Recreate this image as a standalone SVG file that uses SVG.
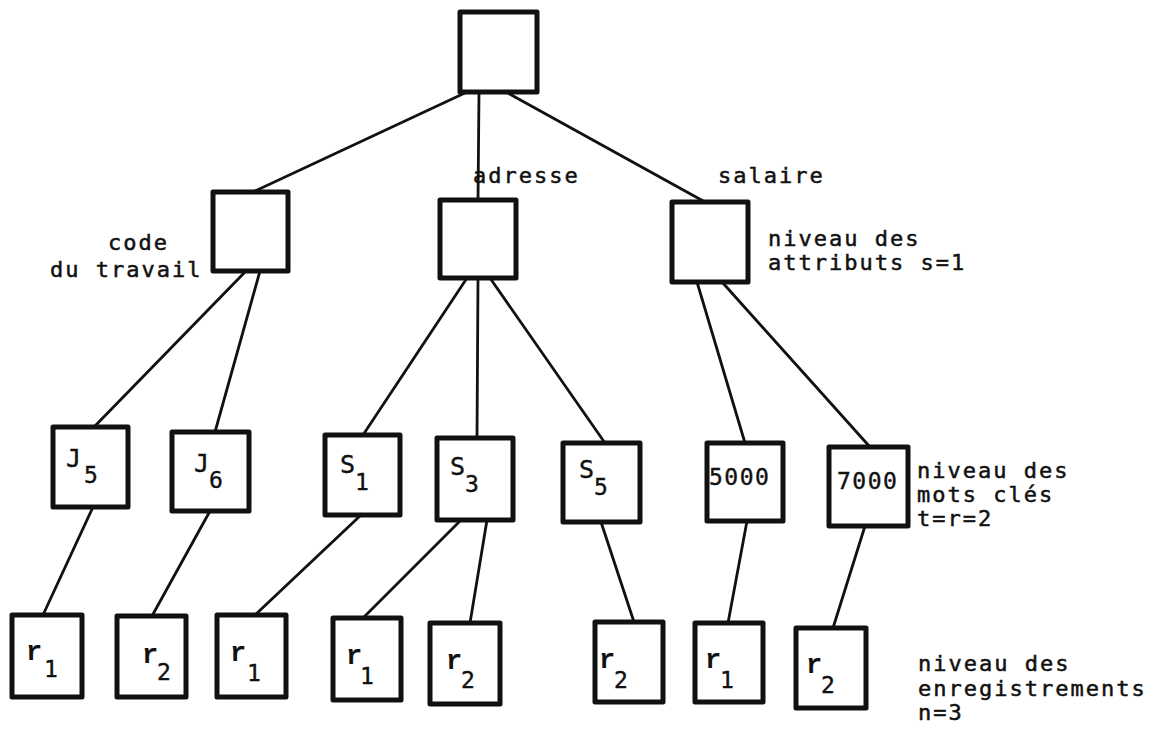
<svg xmlns="http://www.w3.org/2000/svg" width="1160" height="736" viewBox="0 0 1160 736">
  <style>
    .box { fill: #fff; stroke: #111; stroke-width: 5; stroke-linejoin: round; }
    .edge { stroke: #111; stroke-width: 2.8; stroke-linecap: round; fill: none; }
    .lbl { font-family: "DejaVu Sans Mono", "Liberation Mono", monospace; font-size: 22px; letter-spacing: 2px; fill: #111; stroke: #111; stroke-width: 0.5px; }
    .key { font-family: "DejaVu Sans Mono", "Liberation Mono", monospace; font-size: 25px; fill: #111; stroke: #111; stroke-width: 0.4px; }
    .sub { font-family: "DejaVu Sans Mono", "Liberation Mono", monospace; font-size: 23px; fill: #111; stroke: #111; stroke-width: 0.4px; }
    .num { font-family: "DejaVu Sans Mono", "Liberation Mono", monospace; font-size: 23px; letter-spacing: 1.5px; fill: #111; stroke: #111; stroke-width: 0.4px; }
    .rec { font-family: "Liberation Mono", "DejaVu Sans Mono", monospace; font-size: 27px; font-weight: bold; fill: #111; }
  </style>
  <rect width="1160" height="736" fill="#fff"/>

  <!-- connectors -->
  <g id="connectors">
    <line class="edge" x1="467" y1="92" x2="253" y2="192"/>
    <line class="edge" x1="479" y1="92" x2="478" y2="200"/>
    <line class="edge" x1="506" y1="92" x2="705" y2="202"/>

    <line class="edge" x1="246" y1="271" x2="94" y2="427"/>
    <line class="edge" x1="260" y1="271" x2="215" y2="432"/>
    <line class="edge" x1="467" y1="278" x2="363" y2="435"/>
    <line class="edge" x1="478" y1="278" x2="477" y2="438"/>
    <line class="edge" x1="490" y1="278" x2="605" y2="443"/>
    <line class="edge" x1="697" y1="282" x2="745" y2="443"/>
    <line class="edge" x1="722" y1="282" x2="870" y2="447"/>

    <line class="edge" x1="93" y1="507" x2="43" y2="615"/>
    <line class="edge" x1="210" y1="511" x2="152" y2="616"/>
    <line class="edge" x1="361" y1="515" x2="255" y2="615"/>
    <line class="edge" x1="461" y1="520" x2="363" y2="618"/>
    <line class="edge" x1="487" y1="520" x2="470" y2="623"/>
    <line class="edge" x1="601" y1="522" x2="634" y2="622"/>
    <line class="edge" x1="747" y1="521" x2="728" y2="623"/>
    <line class="edge" x1="865" y1="526" x2="833" y2="628"/>
  </g>

  <!-- root -->
  <g id="root">
    <rect class="box" x="460" y="12" width="77" height="80"/>
  </g>

  <!-- attribute level -->
  <g id="attr-code">
    <rect class="box" x="213" y="192" width="75" height="79"/>
    <text class="lbl" x="108" y="250">code</text>
    <text class="lbl" x="50" y="277">du travail</text>
  </g>
  <g id="attr-adresse">
    <rect class="box" x="440" y="200" width="76" height="78"/>
    <text class="lbl" x="473" y="183">adresse</text>
  </g>
  <g id="attr-salaire">
    <rect class="box" x="672" y="202" width="76" height="80"/>
    <text class="lbl" x="718" y="183">salaire</text>
    <text class="lbl" x="768" y="246">niveau des</text>
    <text class="lbl" x="768" y="270">attributs s=1</text>
  </g>

  <!-- keyword level -->
  <g id="kw-j5">
    <rect class="box" x="53" y="427" width="75" height="80"/>
    <text class="key" x="66" y="467">J</text><text class="sub" x="84" y="483">5</text>
  </g>
  <g id="kw-j6">
    <rect class="box" x="172" y="432" width="77" height="79"/>
    <text class="key" x="194" y="472">J</text><text class="sub" x="209" y="488">6</text>
  </g>
  <g id="kw-s1">
    <rect class="box" x="325" y="435" width="75" height="80"/>
    <text class="key" x="340" y="473">S</text><text class="sub" x="355" y="490">1</text>
  </g>
  <g id="kw-s3">
    <rect class="box" x="437" y="438" width="76" height="82"/>
    <text class="key" x="450" y="475">S</text><text class="sub" x="465" y="492">3</text>
  </g>
  <g id="kw-s5">
    <rect class="box" x="563" y="443" width="77" height="79"/>
    <text class="key" x="579" y="478">S</text><text class="sub" x="594" y="495">5</text>
  </g>
  <g id="kw-5000">
    <rect class="box" x="707" y="443" width="76" height="78"/>
    <text class="num" x="709" y="485">5000</text>
  </g>
  <g id="kw-7000">
    <rect class="box" x="829" y="447" width="79" height="79"/>
    <text class="num" x="837" y="489">7000</text>
    <text class="lbl" x="917" y="478">niveau des</text>
    <text class="lbl" x="917" y="502">mots clés</text>
    <text class="lbl" x="917" y="526">t=r=2</text>
  </g>

  <!-- record level -->
  <g id="rec-1a">
    <rect class="box" x="12" y="615" width="70" height="82"/>
    <text class="rec" x="26" y="660">r</text><text class="sub" x="44" y="677">1</text>
  </g>
  <g id="rec-2a">
    <rect class="box" x="117" y="616" width="69" height="81"/>
    <text class="rec" x="142" y="663">r</text><text class="sub" x="157" y="680">2</text>
  </g>
  <g id="rec-1b">
    <rect class="box" x="217" y="615" width="69" height="82"/>
    <text class="rec" x="230" y="661">r</text><text class="sub" x="247" y="681">1</text>
  </g>
  <g id="rec-1c">
    <rect class="box" x="333" y="618" width="68" height="82"/>
    <text class="rec" x="346" y="664">r</text><text class="sub" x="360" y="684">1</text>
  </g>
  <g id="rec-2b">
    <rect class="box" x="430" y="623" width="70" height="81"/>
    <text class="rec" x="446" y="669">r</text><text class="sub" x="461" y="688">2</text>
  </g>
  <g id="rec-2c">
    <rect class="box" x="595" y="622" width="68" height="80"/>
    <text class="rec" x="599" y="668">r</text><text class="sub" x="614" y="688">2</text>
  </g>
  <g id="rec-1d">
    <rect class="box" x="695" y="623" width="68" height="79"/>
    <text class="rec" x="705" y="668">r</text><text class="sub" x="720" y="688">1</text>
  </g>
  <g id="rec-2d">
    <rect class="box" x="796" y="628" width="70" height="80"/>
    <text class="rec" x="806" y="673">r</text><text class="sub" x="821" y="693">2</text>
    <text class="lbl" x="918" y="671">niveau des</text>
    <text class="lbl" x="918" y="696">enregistrements</text>
    <text class="lbl" x="918" y="720">n=3</text>
  </g>
</svg>
